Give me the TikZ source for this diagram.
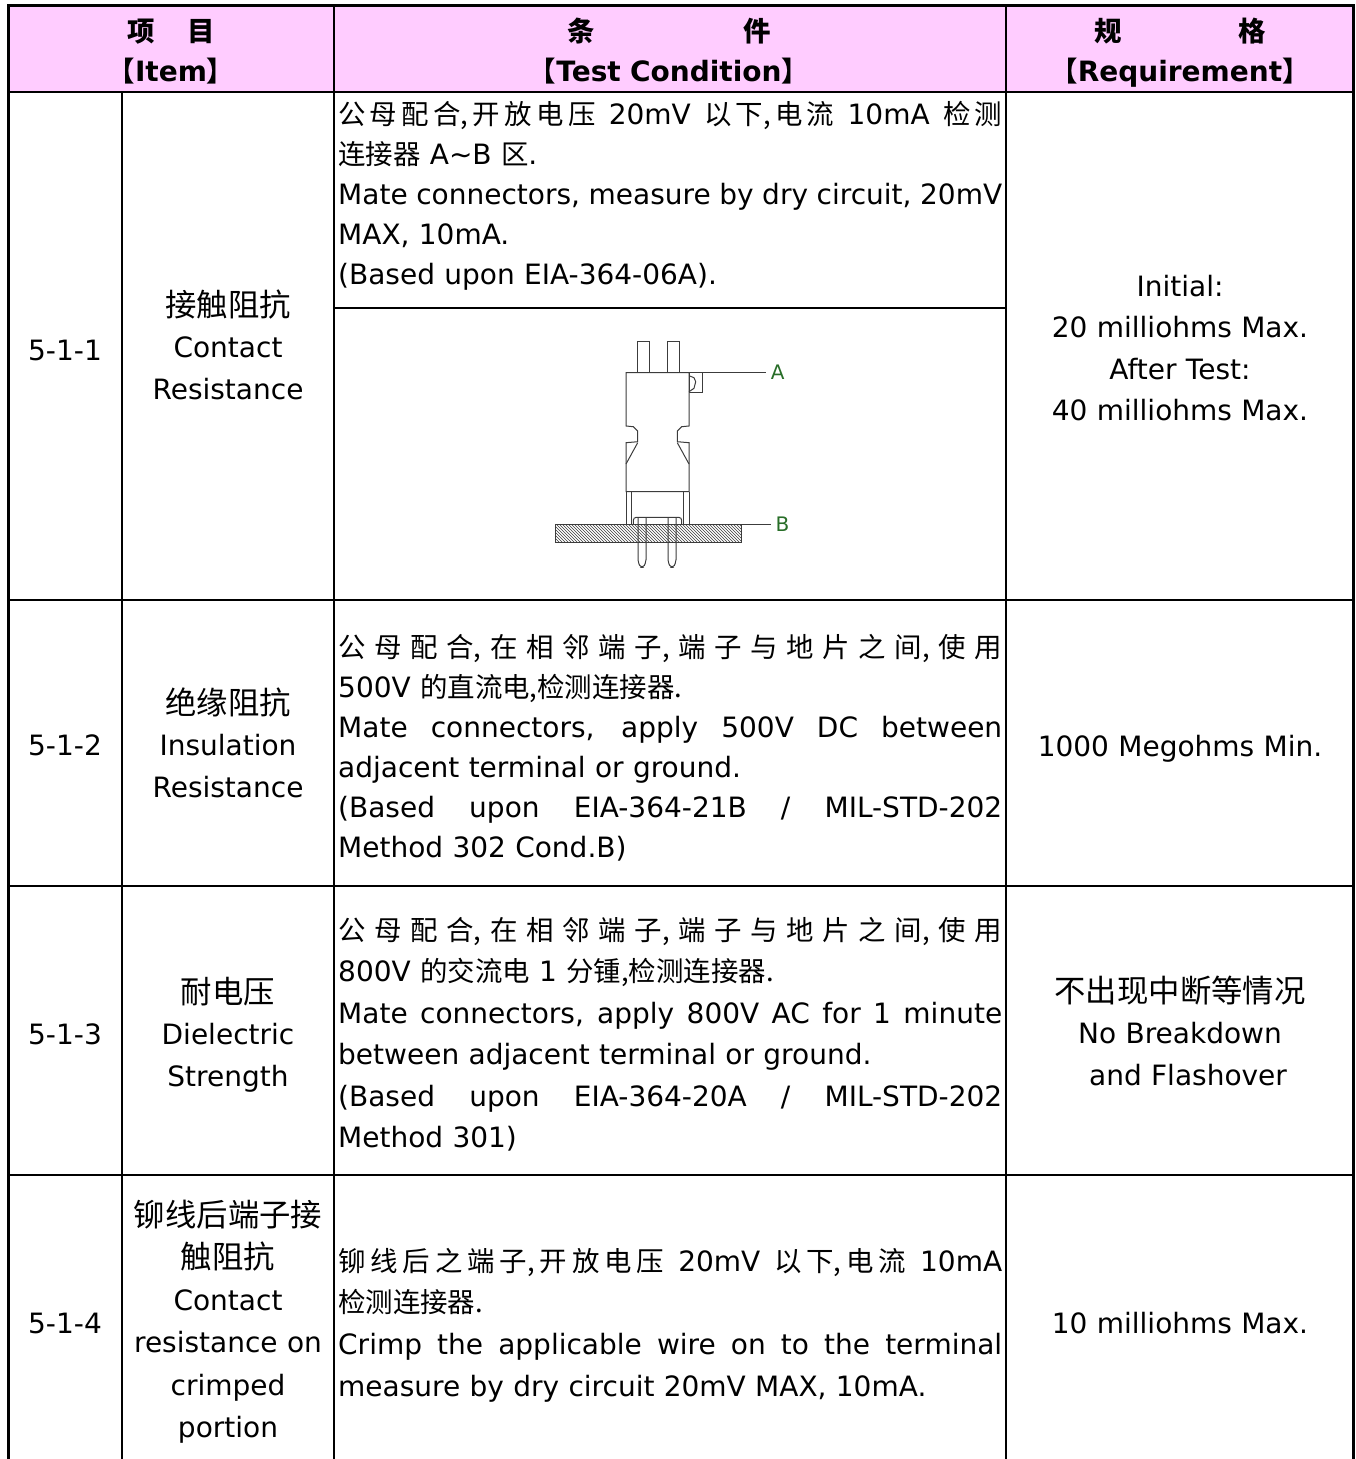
\documentclass[tikz,border=0pt]{standalone}
\usepackage{fontspec}
\setmainfont{DejaVu Sans}
\newfontfamily\zh[Scale=1.12]{Noto Sans CJK SC}
\newfontfamily\zhc[Scale=0.98]{Noto Sans CJK SC}
\usetikzlibrary{patterns}
\definecolor{rosa}{RGB}{255,204,255}
\definecolor{verde}{RGB}{40,110,40}
\definecolor{trazo}{RGB}{60,60,60}
\newcommand{\justa}[1]{\makebox[664pt][s]{\spaceskip=0.32em plus 1fil minus 0.1em\relax #1}}
\newcommand{\hueco}{\hspace{0pt plus 1fil}}

\begin{document}
\begin{tikzpicture}[x=1pt, y=-1pt,
  borde/.style={line width=3pt},
  linea/.style={line width=2pt},
  pieza/.style={trazo, line width=1pt},
  celda/.style={inner sep=0pt, font=\fontsize{28}{#1}\selectfont},
  celda/.default=41.5,
  cabeza/.style={inner sep=0pt, font=\fontsize{28}{40}\selectfont\bfseries, text width=#1, align=center, anchor=base},
  cond/.style={celda=#1, text width=664pt, align=left, anchor=base west},
  cond/.default=41.5,
  nombre/.style={celda=#1, text width=212pt, align=center, anchor=base},
  nombre/.default=41.5,
  req/.style={celda=#1, text width=340pt, align=center, anchor=base},
  req/.default=41.5,
  etiqueta/.style={verde, inner sep=4.3pt, font=\fontsize{20}{20}\selectfont}]
\useasboundingbox (0,0) rectangle (1355,1459);

% Encabezado
\fill[rosa] (8,5) rectangle (1353,92);
\node[cabeza=320pt] (hItem) at (171,41) {{\zhc 项\hspace{33pt}目}\\{\zhc 【}Item{\zhc 】}};
\node[cabeza=660pt] (hCond) at (669,41) {{\zhc 条\hspace{148pt}件}\\{\zhc 【}Test Condition{\zhc 】}};
\node[cabeza=340pt] (hReq) at (1180,41) {{\zhc 规\hspace{117pt}格}\\{\zhc 【}Requirement{\zhc 】}};

% Marco
\draw[borde] (8,1459) -- (8,5) -- (1353,5) -- (1353,1459);
\draw[linea] (8,92) -- (1353,92);
\draw[linea] (122,92) -- (122,1459);
\draw[linea] (334,5) -- (334,1459);
\draw[linea] (1006,5) -- (1006,1459);
\draw[linea] (334,308) -- (1006,308);
\draw[linea] (8,600) -- (1353,600);
\draw[linea] (8,886) -- (1353,886);
\draw[linea] (8,1175) -- (1353,1175);

% 5-1-1
\node[celda, anchor=base] (n1) at (65,360) {5-1-1};
\node[nombre] (c1) at (228,316) {{\zh 接触阻抗}\\Contact\\Resistance};
\node[cond=40] (t1) at (338,124) {\justa{{\zhc 公\hueco 母\hueco 配\hueco 合,\hueco 开\hueco 放\hueco 电\hueco 压} 20mV {\zhc 以\hueco 下,\hueco 电\hueco 流} 10mA {\zhc 检\hueco 测}}\\
{\zhc 连接器} A\textasciitilde B {\zhc 区}.\\
\justa{Mate connectors, measure by dry circuit, 20mV}\\
MAX, 10mA.\\
(Based upon EIA-364-06A).};
\node[req] (r1) at (1180,296) {Initial:\\20 milliohms Max.\\After Test:\\40 milliohms Max.};

% Conector
\draw[pieza] (637.7,341.7) rectangle (649.3,372.7);
\draw[pieza] (667.3,341.7) rectangle (679,372.7);
\draw[pieza] (626,372.7) -- (626,426) -- (633.3,426.7) -- (637.7,431) -- (637.7,441.7) -- (626,442.7)
  -- (626,491.7) -- (689,491.7) -- (689,442.7) -- (677.3,441.7) -- (677.3,431) -- (681.7,426.7)
  -- (689,426) -- (689,372.7) -- cycle;
\draw[pieza] (637.7,442.7) -- (626,464);
\draw[pieza] (677.3,442.7) -- (689,464);
\draw[pieza] (689,372.7) rectangle (702.3,392.3);
\draw[pieza] (689,375.7) -- (694,377.7) -- (695.7,381.7) -- (694,388.3) -- (689,391.7);
\draw[pieza] (626,491.7) -- (626,524);
\draw[pieza] (631.7,491.7) -- (631.7,524);
\draw[pieza] (683.3,491.7) -- (683.3,524);
\draw[pieza] (689,491.7) -- (689,524);
\draw[pieza, rounded corners=3pt] (633.3,524) -- (633.3,517.3) -- (681.7,517.3) -- (681.7,524);

% Placa
\draw[pieza, pattern=north west lines, pattern color=trazo] (555,524) rectangle (741.7,542.3);

% Pines
\draw[pieza, rounded corners=2pt] (638,517.3) -- (638,561.7) -- (640.5,567.3) -- (643.5,567.3) -- (646,561.7) -- (646,517.3);
\draw[pieza, rounded corners=2pt] (668,517.3) -- (668,561.7) -- (670.5,567.3) -- (673.5,567.3) -- (676,561.7) -- (676,517.3);

% Puntos A y B
\coordinate (pA) at (702.3,372.7);
\coordinate (pB) at (741.7,524);
\node[etiqueta] (lA) at (777.8,372.7) {A};
\node[etiqueta] (lB) at (782.5,524) {B};
\draw[pieza] (pA) -- (lA);
\draw[pieza] (pB) -- (lB);

% 5-1-2
\node[celda, anchor=base] (n2) at (65,755) {5-1-2};
\node[nombre] (c2) at (228,714) {{\zh 绝缘阻抗}\\Insulation\\Resistance};
\node[cond=40] (t2) at (338,657) {\justa{\zhc 公 母 配 合, 在 相 邻 端 子, 端 子 与 地 片 之 间, 使 用}\\
500V {\zhc 的直流电,检测连接器.}\\
\justa{Mate connectors, apply 500V DC between}\\
adjacent terminal or ground.\\
\justa{(Based upon EIA-364-21B / MIL-STD-202}\\
Method 302 Cond.B)};
\node[req] (r2) at (1180,756) {1000 Megohms Min.};

% 5-1-3
\node[celda, anchor=base] (n3) at (65,1044) {5-1-3};
\node[nombre] (c3) at (228,1003) {{\zh 耐电压}\\Dielectric\\Strength};
\node[cond=41.5] (t3) at (338,940) {\justa{\zhc 公 母 配 合, 在 相 邻 端 子, 端 子 与 地 片 之 间, 使 用}\\
800V {\zhc 的交流电} 1 {\zhc 分锺,检测连接器.}\\
\justa{Mate connectors, apply 800V AC for 1 minute}\\
between adjacent terminal or ground.\\
\justa{(Based upon EIA-364-20A / MIL-STD-202}\\
Method 301)};
\node[req] (r3) at (1180,1002) {{\zh 不出现中断等情况}\\No Breakdown\\\hspace*{16pt}and Flashover};

% 5-1-4
\node[celda, anchor=base] (n4) at (65,1333) {5-1-4};
\node[nombre=42.3] (c4) at (228,1226) {{\zh 铆线后端子接}\\{\zh 触阻抗}\\Contact\\resistance on\\crimped\\portion};
\node[cond=41.7] (t4) at (338,1271) {\justa{{\zhc 铆\hueco 线\hueco 后\hueco 之\hueco 端\hueco 子,\hueco 开\hueco 放\hueco 电\hueco 压} 20mV {\zhc 以\hueco 下,\hueco 电\hueco 流} 10mA}\\
{\zhc 检测连接器.}\\
\justa{Crimp the applicable wire on to the terminal}\\
measure by dry circuit 20mV MAX, 10mA.};
\node[req] (r4) at (1180,1333) {10 milliohms Max.};

\end{tikzpicture}
\end{document}
